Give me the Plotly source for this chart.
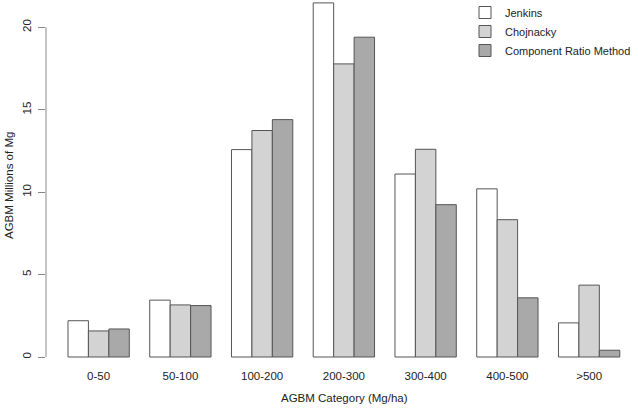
import plotly.graph_objects as go

categories = ["0-50", "50-100", "100-200", "200-300", "300-400", "400-500", ">500"]
jenkins = [2.2, 3.45, 12.58, 21.48, 11.1, 10.2, 2.07]
chojnacky = [1.58, 3.16, 13.74, 17.78, 12.6, 8.33, 4.36]
crm = [1.70, 3.12, 14.4, 19.4, 9.24, 3.59, 0.41]
y_ticks = [0, 5, 10, 15, 20]

W, H = 638, 409
_FONT = dict(family="Liberation Sans, Arial, sans-serif", color="#222222", size=11.5)
_EDGE = dict(color="#555555", width=1)

fig = go.Figure()
for name, vals, color in [("Jenkins", jenkins, "#ffffff"),
                          ("Chojnacky", chojnacky, "#d3d3d3"),
                          ("Component Ratio Method", crm, "#a9a9a9")]:
    fig.add_trace(go.Bar(x=categories, y=vals, name=name,
                         marker=dict(color=color, line=_EDGE)))

# plot area: x 46..630 px, y 0..363 px ; 0 at y=357, 20 at y=27.3
L, R, T, B = 46, 630, 0, 363
px_per_unit = (357 - 27.3) / 20
y_top = 357 / px_per_unit
y_bot = -(B - 357) / px_per_unit
x_lo = (L - (68 + 1.5 * 20.45)) / (4 * 20.45)
pw, ph = R - L, B - T

fig.update_layout(
    template="none",
    width=W, height=H,
    paper_bgcolor="white", plot_bgcolor="white",
    font=_FONT,
    margin=dict(l=L, r=W - R, t=T, b=H - B, pad=0, autoexpand=False),
    barmode="group", bargap=0.25, bargroupgap=0,
    showlegend=True,
    legend=dict(x=(465 - L) / pw, y=1 + 2 / ph, xanchor="left", yanchor="top",
                bgcolor="rgba(0,0,0,0)", font=dict(size=11), tracegroupgap=0,
                itemwidth=30),
    xaxis=dict(range=[x_lo, 6.5], showgrid=False, zeroline=False, showline=False,
               ticks="", tickfont=dict(size=11.5), ticklabelstandoff=4, automargin=False),
    yaxis=dict(range=[y_bot, y_top], showgrid=False, zeroline=False, showline=False,
               tickvals=y_ticks, ticks="outside", ticklen=7, tickcolor="#888888",
               tickangle=-90, tickfont=dict(size=11.5), ticklabelstandoff=2,
               automargin=False),
)

fig.add_shape(type="line", xref="paper", yref="y", x0=0, x1=0, y0=0, y1=20,
              line=dict(color="#888888", width=1))

fig.add_annotation(text="AGBM Category (Mg/ha)", xref="paper", yref="paper",
                   x=(344 - L) / pw, y=-(398 - B) / ph,
                   showarrow=False, xanchor="center", yanchor="middle", font=dict(size=11.5))
fig.add_annotation(text="AGBM Millions of Mg", xref="paper", yref="paper",
                   x=-(L - 9) / pw, y=1 - 186 / ph, textangle=-90,
                   showarrow=False, xanchor="center", yanchor="middle", font=dict(size=11.5))

fig.write_html("out.html", config={"displayModeBar": False},
               post_script="document.body.style.margin='0';")
